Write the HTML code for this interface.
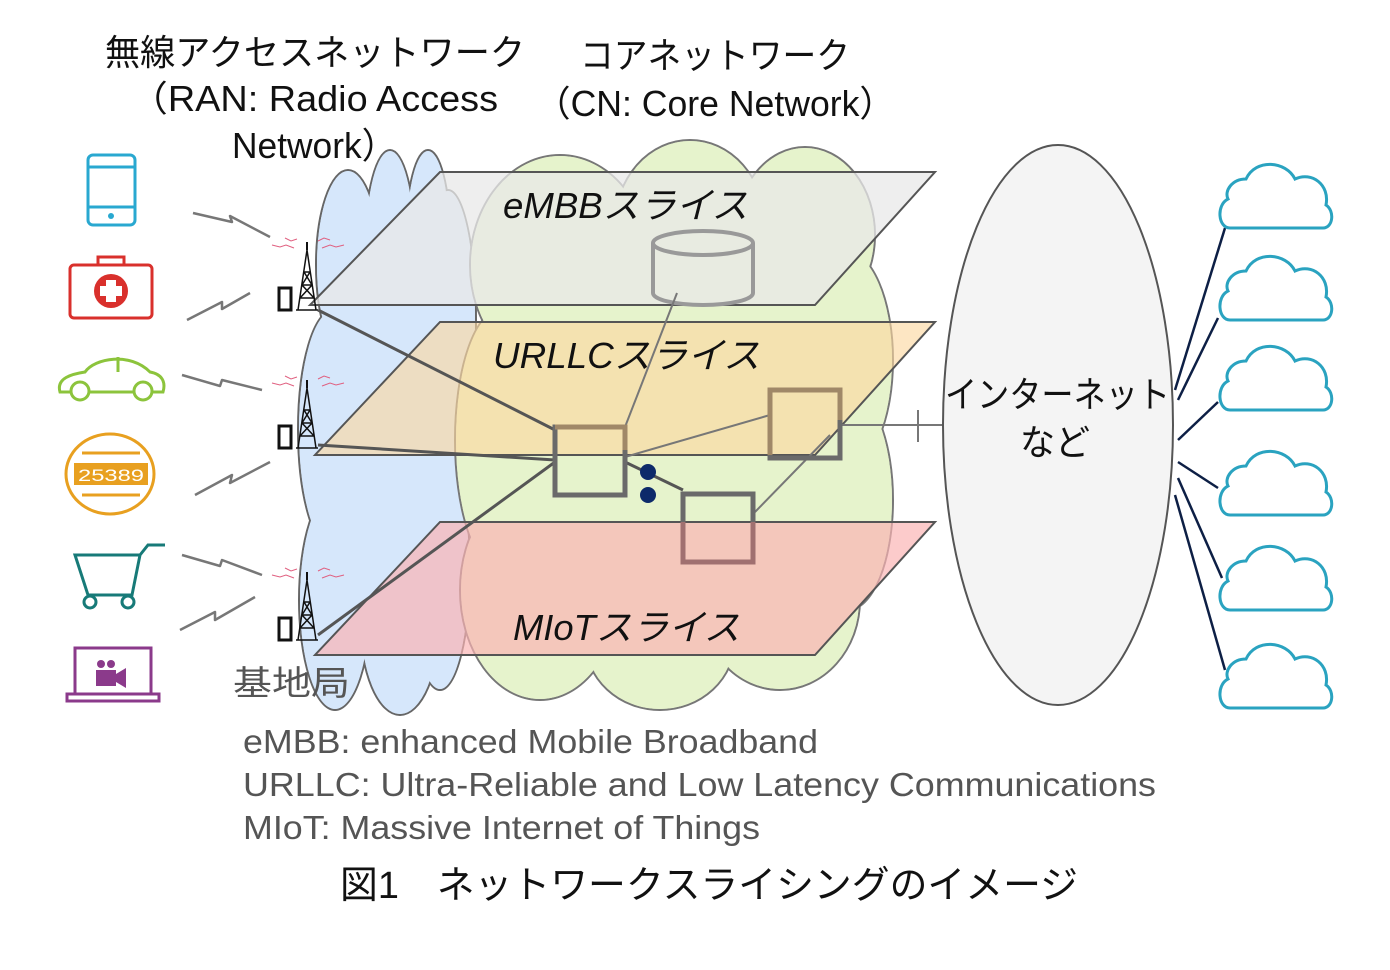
<!DOCTYPE html>
<html><head><meta charset="utf-8"><style>
html,body{margin:0;padding:0;background:#fff;}
svg{display:block;}
text{font-family:"Liberation Sans","Noto Sans CJK JP",sans-serif;}
</style></head><body>
<svg width="1390" height="970" viewBox="0 0 1390 970" xmlns="http://www.w3.org/2000/svg">
<!-- titles -->
<g fill="#111" font-size="36">
<text x="105" y="65" textLength="420" lengthAdjust="spacingAndGlyphs">無線アクセスネットワーク</text>
<text x="130" y="111" textLength="368" lengthAdjust="spacingAndGlyphs">（RAN: Radio Access</text>
<text x="232" y="158" textLength="165" lengthAdjust="spacingAndGlyphs">Network）</text>
<text x="580" y="68" textLength="270" lengthAdjust="spacingAndGlyphs">コアネットワーク</text>
<text x="535" y="116" textLength="360" lengthAdjust="spacingAndGlyphs">（CN: Core Network）</text>
</g>

<!-- blue RAN cloud -->
<g stroke="#666" stroke-width="2" fill="#d6e7fb">
<ellipse cx="348" cy="265" rx="32" ry="95"/>
<ellipse cx="390" cy="245" rx="25" ry="95"/>
<ellipse cx="428" cy="235" rx="22" ry="85"/>
<ellipse cx="448" cy="320" rx="28" ry="130"/>
<ellipse cx="333" cy="430" rx="35" ry="120"/>
<ellipse cx="445" cy="440" rx="30" ry="110"/>
<ellipse cx="335" cy="600" rx="36" ry="110"/>
<ellipse cx="400" cy="620" rx="40" ry="95"/>
<ellipse cx="440" cy="570" rx="30" ry="120"/>
</g>
<g fill="#d6e7fb">
<ellipse cx="348" cy="265" rx="31" ry="94"/>
<ellipse cx="390" cy="245" rx="24" ry="94"/>
<ellipse cx="428" cy="235" rx="21" ry="84"/>
<ellipse cx="448" cy="320" rx="27" ry="129"/>
<ellipse cx="333" cy="430" rx="34" ry="119"/>
<ellipse cx="445" cy="440" rx="29" ry="109"/>
<ellipse cx="335" cy="600" rx="35" ry="109"/>
<ellipse cx="400" cy="620" rx="39" ry="94"/>
<ellipse cx="440" cy="570" rx="29" ry="119"/>
<ellipse cx="390" cy="430" rx="60" ry="230"/>
</g>

<!-- green core cloud -->
<g stroke="#777" stroke-width="2" fill="#e6f3cc">
<ellipse cx="560" cy="265" rx="90" ry="110"/>
<ellipse cx="690" cy="225" rx="75" ry="85"/>
<ellipse cx="805" cy="235" rx="70" ry="88"/>
<ellipse cx="845" cy="360" rx="48" ry="110"/>
<ellipse cx="848" cy="500" rx="45" ry="110"/>
<ellipse cx="780" cy="600" rx="80" ry="90"/>
<ellipse cx="660" cy="640" rx="75" ry="70"/>
<ellipse cx="540" cy="590" rx="80" ry="110"/>
<ellipse cx="500" cy="440" rx="45" ry="130"/>
</g>
<g fill="#e6f3cc">
<ellipse cx="560" cy="265" rx="89" ry="109"/>
<ellipse cx="690" cy="225" rx="74" ry="84"/>
<ellipse cx="805" cy="235" rx="69" ry="87"/>
<ellipse cx="845" cy="360" rx="47" ry="109"/>
<ellipse cx="848" cy="500" rx="44" ry="109"/>
<ellipse cx="780" cy="600" rx="79" ry="89"/>
<ellipse cx="660" cy="640" rx="74" ry="69"/>
<ellipse cx="540" cy="590" rx="79" ry="109"/>
<ellipse cx="500" cy="440" rx="44" ry="129"/>
<ellipse cx="680" cy="430" rx="200" ry="230"/>
</g>

<!-- planes -->
<polygon points="440,172 935,172 815,305 310,305" fill="rgba(232,232,232,0.75)" stroke="#555" stroke-width="2"/>
<polygon points="440,322 935,322 815,455 315,455" fill="rgba(252,214,158,0.62)" stroke="#555" stroke-width="2"/>
<polygon points="440,522 935,522 815,655 315,655" fill="rgba(250,178,178,0.68)" stroke="#555" stroke-width="2"/>

<!-- cylinder -->
<g stroke="#999" stroke-width="4" fill="none">
<path d="M653,243 V293 A50,12 0 0 0 753,293 V243"/>
<ellipse cx="703" cy="243" rx="50" ry="12"/>
</g>

<!-- connection lines -->
<g stroke="#555" stroke-width="3" fill="none">
<line x1="318" y1="310" x2="555" y2="430"/>
<line x1="318" y1="445" x2="555" y2="460"/>
<line x1="318" y1="635" x2="555" y2="462"/>
<line x1="625" y1="462" x2="683" y2="490"/>
</g>
<g stroke="#777" stroke-width="2" fill="none">
<line x1="625" y1="427" x2="677" y2="293"/>
<line x1="625" y1="457" x2="770" y2="415"/>
<line x1="755" y1="512" x2="830" y2="435"/>
<line x1="840" y1="425" x2="943" y2="425"/>
<line x1="918" y1="410" x2="918" y2="442"/>
</g>
<!-- boxes -->
<g fill="none" stroke-width="5">
<rect x="555" y="427" width="70" height="68" stroke="#6a6a6a"/>
<rect x="770" y="390" width="70" height="68" stroke="#6a6a6a"/>
<rect x="683" y="494" width="70" height="68" stroke="#6a6a6a"/>
</g>
<path d="M555,427 H625 V450" stroke="#a08868" stroke-width="5" fill="none"/>
<path d="M770,455 V390 H840 V420" stroke="#a08868" stroke-width="5" fill="none"/>
<path d="M683,522 V562 H753 V522" stroke="#a07070" stroke-width="5" fill="none"/>
<circle cx="648" cy="472" r="8" fill="#0d2a6a"/>
<circle cx="648" cy="495" r="8" fill="#0d2a6a"/>

<!-- slice labels -->
<g fill="#111" font-size="36" font-style="italic">
<text x="503" y="218" textLength="245" lengthAdjust="spacingAndGlyphs">eMBBスライス</text>
<text x="493" y="368" textLength="267" lengthAdjust="spacingAndGlyphs">URLLCスライス</text>
<text x="513" y="640" textLength="227" lengthAdjust="spacingAndGlyphs">MIoTスライス</text>
</g>

<!-- internet ellipse -->
<ellipse cx="1058" cy="425" rx="115" ry="280" fill="#f4f4f4" stroke="#555" stroke-width="2"/>
<g fill="#111" font-size="36">
<text x="945" y="407" textLength="225" lengthAdjust="spacingAndGlyphs">インターネット</text>
<text x="1020" y="455" textLength="70" lengthAdjust="spacingAndGlyphs">など</text>
</g>

<!-- right lines -->
<g stroke="#0d1f45" stroke-width="2.5">
<line x1="1175" y1="390" x2="1225" y2="228"/>
<line x1="1178" y1="400" x2="1218" y2="318"/>
<line x1="1178" y1="440" x2="1218" y2="402"/>
<line x1="1178" y1="462" x2="1218" y2="488"/>
<line x1="1178" y1="478" x2="1222" y2="578"/>
<line x1="1175" y1="495" x2="1225" y2="670"/>
</g>
<!-- right clouds -->
<defs>
<path id="cl" d="M10,65 H103 C113,65 115,48 106,42 C110,22 92,8 75,16 C66,-2 36,-5 26,16 C12,16 4,28 8,36 C-4,42 -2,65 10,65Z" fill="#fff" stroke="#2aa3c0" stroke-width="3"/>
</defs>
<use href="#cl" x="1220" y="163"/>
<use href="#cl" x="1220" y="255"/>
<use href="#cl" x="1220" y="345"/>
<use href="#cl" x="1220" y="450"/>
<use href="#cl" x="1220" y="545"/>
<use href="#cl" x="1220" y="643"/>

<!-- towers -->
<defs>
<g id="tw">
<path d="M298,70 L307,10 L316,70 M300,58 H314 M302,45 H312 M304,32 H310 M300,58 L312,45 M314,58 L302,45 M302,45 L310,32 M312,45 L304,32 M296,70 H318" stroke="#111" stroke-width="1.5" fill="none"/>
<line x1="307" y1="2" x2="307" y2="10" stroke="#111" stroke-width="2"/>
<rect x="279" y="48" width="12" height="22" fill="#fff" stroke="#111" stroke-width="3"/>
<path d="M272,5 l8,2 l6,-2 l8,3 M322,8 l8,-3 l6,2 l8,-2 M285,-2 l6,3 l6,-2 M318,1 l6,-3 l6,2" stroke="#e06080" stroke-width="1" fill="none"/>
</g>
</defs>
<use href="#tw" x="0" y="240"/>
<use href="#tw" x="0" y="378"/>
<use href="#tw" x="0" y="570"/>

<!-- lightning -->
<g stroke="#777" stroke-width="2.5" fill="#999" stroke-linejoin="round">
<polyline points="193,213 232,222 230,216 270,237" fill="none"/>
<polyline points="187,320 222,302 222,309 250,293" fill="none"/>
<polyline points="182,375 220,386 222,380 262,390" fill="none"/>
<polyline points="195,495 232,475 230,483 270,462" fill="none"/>
<polyline points="182,555 220,566 222,560 262,575" fill="none"/>
<polyline points="180,630 215,612 215,620 255,597" fill="none"/>
</g>

<!-- icons -->
<g fill="none" stroke-width="3">
<rect x="88" y="155" width="47" height="70" rx="5" stroke="#29a8d0"/>
<line x1="88" y1="167" x2="135" y2="167" stroke="#29a8d0"/>
<line x1="88" y1="207" x2="135" y2="207" stroke="#29a8d0"/>
<circle cx="111" cy="216" r="3" fill="#29a8d0" stroke="none"/>
<rect x="70" y="265" width="82" height="53" rx="4" stroke="#d9302c"/>
<rect x="98" y="257" width="26" height="8" stroke="#d9302c"/>
<circle cx="111" cy="291" r="17" fill="#d9302c" stroke="none"/>
<path d="M106,280 h10 v6 h6 v10 h-6 v6 h-10 v-6 h-6 v-10 h6z" fill="#fff" stroke="none"/>
<path d="M60,392 C56,378 72,374 85,372 C95,358 130,352 150,372 C162,374 166,382 163,392 Z" stroke="#8cc43c"/>
<line x1="118" y1="357" x2="118" y2="372" stroke="#8cc43c"/>
<circle cx="80" cy="391" r="9" fill="#fff" stroke="#8cc43c"/>
<circle cx="143" cy="391" r="9" fill="#fff" stroke="#8cc43c"/>
<ellipse cx="110" cy="474" rx="44" ry="40" stroke="#e8a020"/>
<line x1="82" y1="453" x2="140" y2="453" stroke="#e8a020"/>
<line x1="82" y1="495" x2="140" y2="495" stroke="#e8a020"/>
<rect x="74" y="463" width="74" height="22" fill="#e8a020" stroke="none"/>
<path d="M75,555 H140 L132,595 H88 Z M140,555 L148,545 H165" stroke="#177a78"/>
<circle cx="90" cy="602" r="6" fill="#fff" stroke="#177a78"/>
<circle cx="128" cy="602" r="6" fill="#fff" stroke="#177a78"/>
<rect x="75" y="648" width="76" height="46" stroke="#8b3a8b"/>
<rect x="67" y="694" width="92" height="7" stroke="#8b3a8b"/>
<rect x="96" y="670" width="20" height="16" fill="#8b3a8b" stroke="none"/>
<path d="M116,674 L126,668 V688 L116,682Z" fill="#8b3a8b" stroke="none"/>
<circle cx="101" cy="664" r="4" fill="#8b3a8b" stroke="none"/>
<circle cx="111" cy="664" r="4" fill="#8b3a8b" stroke="none"/>
</g>
<text x="78" y="481" font-size="17" fill="#fff" textLength="66" lengthAdjust="spacingAndGlyphs">25389</text>

<text x="233" y="695" font-size="34" fill="#555" textLength="117" lengthAdjust="spacingAndGlyphs">基地局</text>

<!-- legend -->
<g fill="#555" font-size="33">
<text x="243" y="753" textLength="575" lengthAdjust="spacingAndGlyphs">eMBB: enhanced Mobile Broadband</text>
<text x="243" y="796" textLength="913" lengthAdjust="spacingAndGlyphs">URLLC: Ultra-Reliable and Low Latency Communications</text>
<text x="243" y="839" textLength="517" lengthAdjust="spacingAndGlyphs">MIoT: Massive Internet of Things</text>
</g>
<text x="340" y="898" font-size="38" fill="#111" textLength="738" lengthAdjust="spacingAndGlyphs">図1　ネットワークスライシングのイメージ</text>
</svg>
</body></html>
